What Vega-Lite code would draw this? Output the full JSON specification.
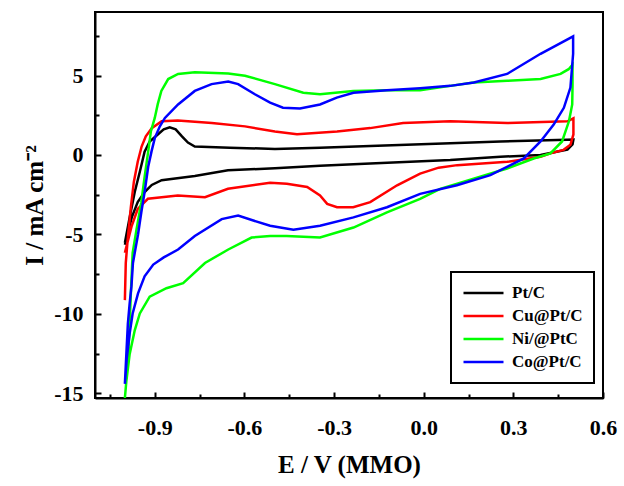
{
  "$schema": "https://vega.github.io/schema/vega-lite/v6.json",
  "width": 508,
  "height": 386,
  "autosize": {"type": "none"},
  "padding": {"left": 95, "top": 12, "right": 21, "bottom": 88},
  "background": "white",
  "config": {
    "view": {"stroke": "black", "strokeWidth": 2},
    "font": "Liberation Serif",
    "legend": {"strokeWidth": 2}
  },
  "data": {
    "values": [
      {"s": "Pt/C", "i": 0, "E": -1.0, "I": -5.52},
      {"s": "Pt/C", "i": 1, "E": -0.984, "I": -3.93},
      {"s": "Pt/C", "i": 2, "E": -0.967, "I": -2.33},
      {"s": "Pt/C", "i": 3, "E": -0.95, "I": -1.06},
      {"s": "Pt/C", "i": 4, "E": -0.934, "I": 0.21},
      {"s": "Pt/C", "i": 5, "E": -0.917, "I": 0.85},
      {"s": "Pt/C", "i": 6, "E": -0.89, "I": 1.29},
      {"s": "Pt/C", "i": 7, "E": -0.87, "I": 1.61},
      {"s": "Pt/C", "i": 8, "E": -0.85, "I": 1.74},
      {"s": "Pt/C", "i": 9, "E": -0.83, "I": 1.61},
      {"s": "Pt/C", "i": 10, "E": -0.809, "I": 1.17},
      {"s": "Pt/C", "i": 11, "E": -0.789, "I": 0.78},
      {"s": "Pt/C", "i": 12, "E": -0.766, "I": 0.53},
      {"s": "Pt/C", "i": 13, "E": -0.649, "I": 0.46},
      {"s": "Pt/C", "i": 14, "E": -0.498, "I": 0.38},
      {"s": "Pt/C", "i": 15, "E": -0.347, "I": 0.46},
      {"s": "Pt/C", "i": 16, "E": -0.179, "I": 0.57},
      {"s": "Pt/C", "i": 17, "E": 0.089, "I": 0.74},
      {"s": "Pt/C", "i": 18, "E": 0.257, "I": 0.85},
      {"s": "Pt/C", "i": 19, "E": 0.48, "I": 0.96},
      {"s": "Pt/C", "i": 20, "E": 0.501, "I": 0.97},
      {"s": "Pt/C", "i": 21, "E": 0.498, "I": 0.66},
      {"s": "Pt/C", "i": 22, "E": 0.481, "I": 0.34},
      {"s": "Pt/C", "i": 23, "E": 0.391, "I": 0.0},
      {"s": "Pt/C", "i": 24, "E": 0.257, "I": -0.11},
      {"s": "Pt/C", "i": 25, "E": 0.089, "I": -0.32},
      {"s": "Pt/C", "i": 26, "E": -0.179, "I": -0.54},
      {"s": "Pt/C", "i": 27, "E": -0.347, "I": -0.68},
      {"s": "Pt/C", "i": 28, "E": -0.498, "I": -0.84},
      {"s": "Pt/C", "i": 29, "E": -0.655, "I": -0.96},
      {"s": "Pt/C", "i": 30, "E": -0.766, "I": -1.32},
      {"s": "Pt/C", "i": 31, "E": -0.877, "I": -1.59},
      {"s": "Pt/C", "i": 32, "E": -0.91, "I": -1.89},
      {"s": "Pt/C", "i": 33, "E": -0.934, "I": -2.34},
      {"s": "Pt/C", "i": 34, "E": -0.957, "I": -2.97},
      {"s": "Pt/C", "i": 35, "E": -0.977, "I": -3.93},
      {"s": "Pt/C", "i": 36, "E": -0.994, "I": -5.2},
      {"s": "Pt/C", "i": 37, "E": -1.0, "I": -5.65},

      {"s": "Cu@Pt/C", "i": 0, "E": -1.0, "I": -9.14},
      {"s": "Cu@Pt/C", "i": 1, "E": -0.997, "I": -6.79},
      {"s": "Cu@Pt/C", "i": 2, "E": -0.99, "I": -5.18},
      {"s": "Cu@Pt/C", "i": 3, "E": -0.98, "I": -3.29},
      {"s": "Cu@Pt/C", "i": 4, "E": -0.97, "I": -1.7},
      {"s": "Cu@Pt/C", "i": 5, "E": -0.957, "I": -0.43},
      {"s": "Cu@Pt/C", "i": 6, "E": -0.944, "I": 0.53},
      {"s": "Cu@Pt/C", "i": 7, "E": -0.93, "I": 1.17},
      {"s": "Cu@Pt/C", "i": 8, "E": -0.91, "I": 1.68},
      {"s": "Cu@Pt/C", "i": 9, "E": -0.877, "I": 2.12},
      {"s": "Cu@Pt/C", "i": 10, "E": -0.823, "I": 2.17},
      {"s": "Cu@Pt/C", "i": 11, "E": -0.709, "I": 2.01},
      {"s": "Cu@Pt/C", "i": 12, "E": -0.598, "I": 1.8},
      {"s": "Cu@Pt/C", "i": 13, "E": -0.498, "I": 1.48},
      {"s": "Cu@Pt/C", "i": 14, "E": -0.424, "I": 1.31},
      {"s": "Cu@Pt/C", "i": 15, "E": -0.29, "I": 1.48},
      {"s": "Cu@Pt/C", "i": 16, "E": -0.179, "I": 1.69},
      {"s": "Cu@Pt/C", "i": 17, "E": -0.069, "I": 2.01},
      {"s": "Cu@Pt/C", "i": 18, "E": 0.089, "I": 2.12},
      {"s": "Cu@Pt/C", "i": 19, "E": 0.28, "I": 2.01},
      {"s": "Cu@Pt/C", "i": 20, "E": 0.481, "I": 2.12},
      {"s": "Cu@Pt/C", "i": 21, "E": 0.501, "I": 2.31},
      {"s": "Cu@Pt/C", "i": 22, "E": 0.501, "I": 1.29},
      {"s": "Cu@Pt/C", "i": 23, "E": 0.491, "I": 0.64},
      {"s": "Cu@Pt/C", "i": 24, "E": 0.468, "I": 0.32},
      {"s": "Cu@Pt/C", "i": 25, "E": 0.424, "I": 0.1},
      {"s": "Cu@Pt/C", "i": 26, "E": 0.391, "I": -0.11},
      {"s": "Cu@Pt/C", "i": 27, "E": 0.28, "I": -0.43},
      {"s": "Cu@Pt/C", "i": 28, "E": 0.112, "I": -0.64},
      {"s": "Cu@Pt/C", "i": 29, "E": 0.05, "I": -0.8},
      {"s": "Cu@Pt/C", "i": 30, "E": -0.012, "I": -1.17},
      {"s": "Cu@Pt/C", "i": 31, "E": -0.089, "I": -1.91},
      {"s": "Cu@Pt/C", "i": 32, "E": -0.179, "I": -2.97},
      {"s": "Cu@Pt/C", "i": 33, "E": -0.236, "I": -3.29},
      {"s": "Cu@Pt/C", "i": 34, "E": -0.29, "I": -3.29},
      {"s": "Cu@Pt/C", "i": 35, "E": -0.323, "I": -3.08},
      {"s": "Cu@Pt/C", "i": 36, "E": -0.347, "I": -2.55},
      {"s": "Cu@Pt/C", "i": 37, "E": -0.39, "I": -2.02},
      {"s": "Cu@Pt/C", "i": 38, "E": -0.458, "I": -1.81},
      {"s": "Cu@Pt/C", "i": 39, "E": -0.514, "I": -1.75},
      {"s": "Cu@Pt/C", "i": 40, "E": -0.655, "I": -2.13},
      {"s": "Cu@Pt/C", "i": 41, "E": -0.732, "I": -2.66},
      {"s": "Cu@Pt/C", "i": 42, "E": -0.823, "I": -2.55},
      {"s": "Cu@Pt/C", "i": 43, "E": -0.877, "I": -2.66},
      {"s": "Cu@Pt/C", "i": 44, "E": -0.923, "I": -2.76},
      {"s": "Cu@Pt/C", "i": 45, "E": -0.957, "I": -3.4},
      {"s": "Cu@Pt/C", "i": 46, "E": -0.977, "I": -4.46},
      {"s": "Cu@Pt/C", "i": 47, "E": -0.994, "I": -5.71},
      {"s": "Cu@Pt/C", "i": 48, "E": -1.0, "I": -6.16},

      {"s": "Ni/@PtC", "i": 0, "E": -1.0, "I": -15.3},
      {"s": "Ni/@PtC", "i": 1, "E": -0.99, "I": -13.15},
      {"s": "Ni/@PtC", "i": 2, "E": -0.984, "I": -10.62},
      {"s": "Ni/@PtC", "i": 3, "E": -0.98, "I": -8.71},
      {"s": "Ni/@PtC", "i": 4, "E": -0.974, "I": -6.16},
      {"s": "Ni/@PtC", "i": 5, "E": -0.961, "I": -4.69},
      {"s": "Ni/@PtC", "i": 6, "E": -0.945, "I": -2.97},
      {"s": "Ni/@PtC", "i": 7, "E": -0.934, "I": -1.38},
      {"s": "Ni/@PtC", "i": 8, "E": -0.922, "I": 0.21},
      {"s": "Ni/@PtC", "i": 9, "E": -0.913, "I": 1.48},
      {"s": "Ni/@PtC", "i": 10, "E": -0.9, "I": 2.33},
      {"s": "Ni/@PtC", "i": 11, "E": -0.89, "I": 3.2},
      {"s": "Ni/@PtC", "i": 12, "E": -0.878, "I": 4.03},
      {"s": "Ni/@PtC", "i": 13, "E": -0.855, "I": 4.78},
      {"s": "Ni/@PtC", "i": 14, "E": -0.822, "I": 5.1},
      {"s": "Ni/@PtC", "i": 15, "E": -0.766, "I": 5.2},
      {"s": "Ni/@PtC", "i": 16, "E": -0.654, "I": 5.13},
      {"s": "Ni/@PtC", "i": 17, "E": -0.598, "I": 4.99},
      {"s": "Ni/@PtC", "i": 18, "E": -0.498, "I": 4.46},
      {"s": "Ni/@PtC", "i": 19, "E": -0.403, "I": 3.92},
      {"s": "Ni/@PtC", "i": 20, "E": -0.347, "I": 3.82},
      {"s": "Ni/@PtC", "i": 21, "E": -0.236, "I": 4.03},
      {"s": "Ni/@PtC", "i": 22, "E": -0.124, "I": 4.08},
      {"s": "Ni/@PtC", "i": 23, "E": -0.012, "I": 4.08},
      {"s": "Ni/@PtC", "i": 24, "E": 0.089, "I": 4.35},
      {"s": "Ni/@PtC", "i": 25, "E": 0.167, "I": 4.56},
      {"s": "Ni/@PtC", "i": 26, "E": 0.279, "I": 4.67},
      {"s": "Ni/@PtC", "i": 27, "E": 0.391, "I": 4.78},
      {"s": "Ni/@PtC", "i": 28, "E": 0.458, "I": 5.1},
      {"s": "Ni/@PtC", "i": 29, "E": 0.485, "I": 5.4},
      {"s": "Ni/@PtC", "i": 30, "E": 0.498, "I": 5.69},
      {"s": "Ni/@PtC", "i": 31, "E": 0.498, "I": 4.35},
      {"s": "Ni/@PtC", "i": 32, "E": 0.497, "I": 3.18},
      {"s": "Ni/@PtC", "i": 33, "E": 0.486, "I": 2.12},
      {"s": "Ni/@PtC", "i": 34, "E": 0.463, "I": 0.85},
      {"s": "Ni/@PtC", "i": 35, "E": 0.424, "I": 0.1},
      {"s": "Ni/@PtC", "i": 36, "E": 0.368, "I": -0.22},
      {"s": "Ni/@PtC", "i": 37, "E": 0.279, "I": -0.85},
      {"s": "Ni/@PtC", "i": 38, "E": 0.167, "I": -1.49},
      {"s": "Ni/@PtC", "i": 39, "E": 0.055, "I": -2.13},
      {"s": "Ni/@PtC", "i": 40, "E": -0.012, "I": -2.76},
      {"s": "Ni/@PtC", "i": 41, "E": -0.123, "I": -3.61},
      {"s": "Ni/@PtC", "i": 42, "E": -0.235, "I": -4.57},
      {"s": "Ni/@PtC", "i": 43, "E": -0.347, "I": -5.2},
      {"s": "Ni/@PtC", "i": 44, "E": -0.459, "I": -5.1},
      {"s": "Ni/@PtC", "i": 45, "E": -0.514, "I": -5.1},
      {"s": "Ni/@PtC", "i": 46, "E": -0.576, "I": -5.2},
      {"s": "Ni/@PtC", "i": 47, "E": -0.654, "I": -5.95},
      {"s": "Ni/@PtC", "i": 48, "E": -0.732, "I": -6.8},
      {"s": "Ni/@PtC", "i": 49, "E": -0.805, "I": -8.07},
      {"s": "Ni/@PtC", "i": 50, "E": -0.861, "I": -8.39},
      {"s": "Ni/@PtC", "i": 51, "E": -0.917, "I": -8.92},
      {"s": "Ni/@PtC", "i": 52, "E": -0.95, "I": -9.98},
      {"s": "Ni/@PtC", "i": 53, "E": -0.967, "I": -11.04},
      {"s": "Ni/@PtC", "i": 54, "E": -0.984, "I": -12.54},
      {"s": "Ni/@PtC", "i": 55, "E": -0.995, "I": -14.23},
      {"s": "Ni/@PtC", "i": 56, "E": -1.0, "I": -15.3},

      {"s": "Co@Pt/C", "i": 0, "E": -1.0, "I": -14.41},
      {"s": "Co@Pt/C", "i": 1, "E": -0.995, "I": -12.5},
      {"s": "Co@Pt/C", "i": 2, "E": -0.99, "I": -10.62},
      {"s": "Co@Pt/C", "i": 3, "E": -0.984, "I": -9.34},
      {"s": "Co@Pt/C", "i": 4, "E": -0.978, "I": -8.26},
      {"s": "Co@Pt/C", "i": 5, "E": -0.973, "I": -6.8},
      {"s": "Co@Pt/C", "i": 6, "E": -0.967, "I": -6.16},
      {"s": "Co@Pt/C", "i": 7, "E": -0.956, "I": -5.01},
      {"s": "Co@Pt/C", "i": 8, "E": -0.945, "I": -3.61},
      {"s": "Co@Pt/C", "i": 9, "E": -0.934, "I": -2.34},
      {"s": "Co@Pt/C", "i": 10, "E": -0.922, "I": -0.74},
      {"s": "Co@Pt/C", "i": 11, "E": -0.911, "I": 0.21},
      {"s": "Co@Pt/C", "i": 12, "E": -0.9, "I": 1.06},
      {"s": "Co@Pt/C", "i": 13, "E": -0.883, "I": 1.8},
      {"s": "Co@Pt/C", "i": 14, "E": -0.866, "I": 2.33},
      {"s": "Co@Pt/C", "i": 15, "E": -0.822, "I": 3.18},
      {"s": "Co@Pt/C", "i": 16, "E": -0.766, "I": 4.03},
      {"s": "Co@Pt/C", "i": 17, "E": -0.71, "I": 4.46},
      {"s": "Co@Pt/C", "i": 18, "E": -0.654, "I": 4.62},
      {"s": "Co@Pt/C", "i": 19, "E": -0.621, "I": 4.46},
      {"s": "Co@Pt/C", "i": 20, "E": -0.565, "I": 3.82},
      {"s": "Co@Pt/C", "i": 21, "E": -0.514, "I": 3.29},
      {"s": "Co@Pt/C", "i": 22, "E": -0.471, "I": 2.97},
      {"s": "Co@Pt/C", "i": 23, "E": -0.414, "I": 2.93},
      {"s": "Co@Pt/C", "i": 24, "E": -0.347, "I": 3.18},
      {"s": "Co@Pt/C", "i": 25, "E": -0.291, "I": 3.61},
      {"s": "Co@Pt/C", "i": 26, "E": -0.235, "I": 3.92},
      {"s": "Co@Pt/C", "i": 27, "E": -0.123, "I": 4.08},
      {"s": "Co@Pt/C", "i": 28, "E": -0.012, "I": 4.2},
      {"s": "Co@Pt/C", "i": 29, "E": 0.089, "I": 4.35},
      {"s": "Co@Pt/C", "i": 30, "E": 0.168, "I": 4.56},
      {"s": "Co@Pt/C", "i": 31, "E": 0.279, "I": 5.1},
      {"s": "Co@Pt/C", "i": 32, "E": 0.391, "I": 6.37},
      {"s": "Co@Pt/C", "i": 33, "E": 0.5, "I": 7.47},
      {"s": "Co@Pt/C", "i": 34, "E": 0.5, "I": 6.37},
      {"s": "Co@Pt/C", "i": 35, "E": 0.491, "I": 4.24},
      {"s": "Co@Pt/C", "i": 36, "E": 0.469, "I": 2.97},
      {"s": "Co@Pt/C", "i": 37, "E": 0.435, "I": 1.91},
      {"s": "Co@Pt/C", "i": 38, "E": 0.391, "I": 0.85},
      {"s": "Co@Pt/C", "i": 39, "E": 0.335, "I": -0.22},
      {"s": "Co@Pt/C", "i": 40, "E": 0.223, "I": -1.27},
      {"s": "Co@Pt/C", "i": 41, "E": 0.111, "I": -1.91},
      {"s": "Co@Pt/C", "i": 42, "E": -0.012, "I": -2.45},
      {"s": "Co@Pt/C", "i": 43, "E": -0.123, "I": -3.29},
      {"s": "Co@Pt/C", "i": 44, "E": -0.235, "I": -3.93},
      {"s": "Co@Pt/C", "i": 45, "E": -0.347, "I": -4.46},
      {"s": "Co@Pt/C", "i": 46, "E": -0.436, "I": -4.71},
      {"s": "Co@Pt/C", "i": 47, "E": -0.514, "I": -4.46},
      {"s": "Co@Pt/C", "i": 48, "E": -0.621, "I": -3.82},
      {"s": "Co@Pt/C", "i": 49, "E": -0.676, "I": -4.04},
      {"s": "Co@Pt/C", "i": 50, "E": -0.766, "I": -5.1},
      {"s": "Co@Pt/C", "i": 51, "E": -0.822, "I": -5.95},
      {"s": "Co@Pt/C", "i": 52, "E": -0.87, "I": -6.45},
      {"s": "Co@Pt/C", "i": 53, "E": -0.905, "I": -6.9},
      {"s": "Co@Pt/C", "i": 54, "E": -0.934, "I": -7.64},
      {"s": "Co@Pt/C", "i": 55, "E": -0.956, "I": -8.71},
      {"s": "Co@Pt/C", "i": 56, "E": -0.974, "I": -9.98},
      {"s": "Co@Pt/C", "i": 57, "E": -0.984, "I": -11.25},
      {"s": "Co@Pt/C", "i": 58, "E": -0.994, "I": -12.85},
      {"s": "Co@Pt/C", "i": 59, "E": -1.0, "I": -14.41}
    ]
  },
  "layer": [
    {
      "mark": {"type": "line", "strokeWidth": 2.5, "clip": true},
      "encoding": {
        "x": {
          "field": "E", "type": "quantitative",
          "scale": {"domain": [-1.1, 0.6], "nice": false, "zero": false},
          "axis": {
            "orient": "bottom",
            "values": [-0.9, -0.6, -0.3, 0, 0.3, 0.6],
            "labelExpr": "replace(format(datum.value, '.1f'), '\u2212', '-')",
            "title": "E / V (MMO)",
            "grid": false,
            "domainColor": "black", "domainWidth": 2,
            "tickColor": "black", "tickWidth": 2, "tickSize": -6,
            "labelPadding": 25, "labelFlush": false, "labelOverlap": false,
            "labelFont": "Liberation Serif", "labelFontWeight": "bold", "labelFontSize": 22, "labelColor": "black",
            "titleFont": "Liberation Serif", "titleFontWeight": "bold", "titleFontSize": 25, "titleColor": "black",
            "titlePadding": 14
          }
        },
        "y": {
          "field": "I", "type": "quantitative",
          "scale": {"domain": [-15.3, 9], "nice": false, "zero": false},
          "axis": {
            "orient": "left",
            "values": [-15, -10, -5, 0, 5],
            "labelExpr": "replace(format(datum.value, '.0f'), '\u2212', '-')",
            "title": "I / mA cm\u207b\u00b2",
            "grid": false,
            "domainColor": "black", "domainWidth": 2,
            "tickColor": "black", "tickWidth": 2, "tickSize": -6,
            "labelPadding": 18, "labelOverlap": false,
            "labelFont": "Liberation Serif", "labelFontWeight": "bold", "labelFontSize": 22, "labelColor": "black",
            "titleFont": "Liberation Serif", "titleFontWeight": "bold", "titleFontSize": 25, "titleColor": "black",
            "titlePadding": 6
          }
        },
        "color": {
          "field": "s", "type": "nominal",
          "scale": {"domain": ["Pt/C", "Cu@Pt/C", "Ni/@PtC", "Co@Pt/C"], "range": ["#000000", "#ff0000", "#00ff00", "#0000ff"]},
          "legend": {
            "orient": "none", "legendX": 356, "legendY": 260,
            "title": null,
            "symbolType": "stroke", "symbolSize": 1600, "symbolStrokeWidth": 2.5,
            "labelFont": "Liberation Serif", "labelFontWeight": "bold", "labelFontSize": 17, "labelColor": "black",
            "labelOffset": 7, "labelLimit": 200,
            "clipHeight": 20, "rowPadding": 3, "padding": 11,
            "strokeColor": "black", "fillColor": "white"
          }
        },
        "order": {"field": "i", "type": "quantitative"}
      }
    },
    {
      "mark": {"type": "point", "opacity": 0},
      "encoding": {
        "x": {
          "field": "E", "type": "quantitative",
          "axis": {
            "orient": "bottom",
            "values": [-1.05, -0.75, -0.45, -0.15, 0.15, 0.45],
            "labels": false, "domain": false, "grid": false, "title": null,
            "tickColor": "black", "tickWidth": 2, "tickSize": -4
          }
        },
        "y": {
          "field": "I", "type": "quantitative",
          "axis": {
            "orient": "left",
            "values": [-12.5, -7.5, -2.5, 2.5, 7.5],
            "labels": false, "domain": false, "grid": false, "title": null,
            "tickColor": "black", "tickWidth": 2, "tickSize": -4
          }
        }
      }
    }
  ],
  "resolve": {"axis": {"x": "independent", "y": "independent"}}
}
